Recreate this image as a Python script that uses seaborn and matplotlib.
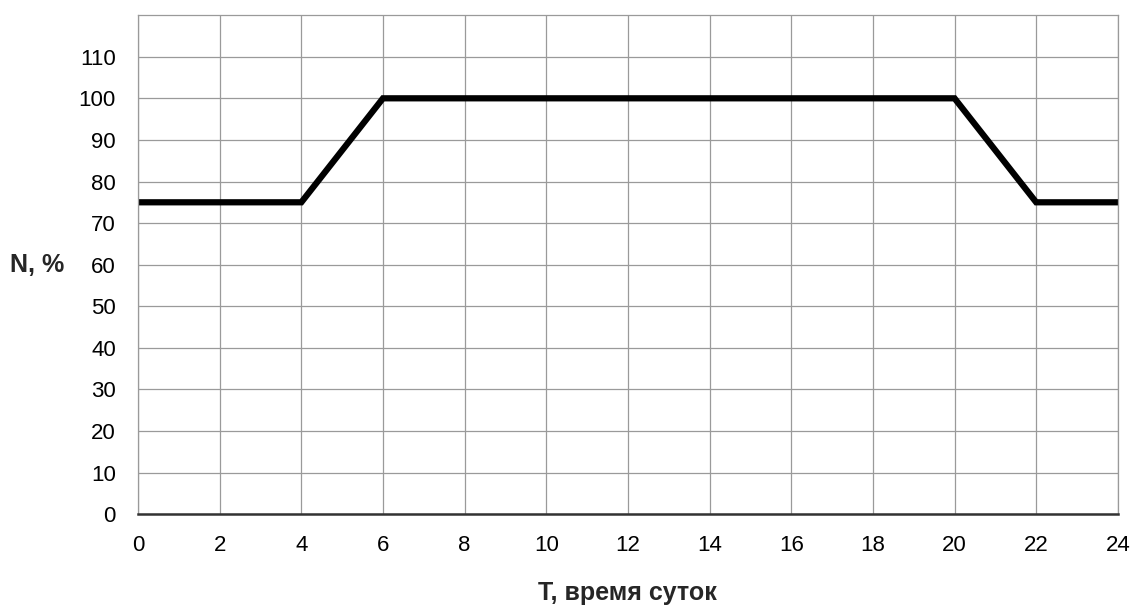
import pandas as pd
import matplotlib.pyplot as plt
import seaborn as sns

# load schedule over the day (hours vs % of nominal)
hours = [0, 4, 6, 20, 22, 24]
load_pct = [75, 75, 100, 100, 75, 75]
x_ticks = list(range(0, 25, 2))
y_ticks = list(range(0, 111, 10))

df = pd.DataFrame({"T": hours, "N": load_pct})

sns.set_theme(style="white")
plt.rcParams['font.family'] = ['Liberation Sans', 'DejaVu Sans']

fig = plt.figure(figsize=(11.36, 6.05), dpi=100)
ax = fig.add_axes([0.1215, 0.150, 0.8625, 0.825])

sns.lineplot(data=df, x="T", y="N", ax=ax, color="black", linewidth=4.5,
             solid_joinstyle="miter")

ax.set_xlim(0, 24)
ax.set_ylim(0, 120)
ax.set_xticks(x_ticks)
ax.set_yticks(y_ticks)
ax.tick_params(axis="both", labelsize=16, colors="black")
ax.tick_params(axis="x", direction="out", length=6, width=1.6, pad=9,
               color="#222222")
ax.tick_params(axis="y", direction="out", length=5, width=1.0, pad=11,
               color="#777777")
ax.grid(True, color="#9a9a9a", linewidth=0.9)

for side in ["top", "right", "left"]:
    ax.spines[side].set_color("#9a9a9a")
    ax.spines[side].set_linewidth(0.9)
ax.spines["bottom"].set_color("#333333")
ax.spines["bottom"].set_linewidth(1.8)

ax.set_xlabel("T, время суток", fontsize=18, fontweight="bold", labelpad=18)
ax.set_ylabel("N, %", fontsize=18, fontweight="bold", rotation=0, labelpad=30,
              va="center")

fig.savefig("out.png", dpi=100)
